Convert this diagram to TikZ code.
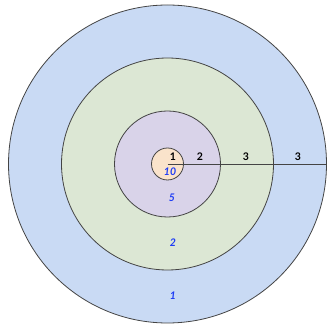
\documentclass[tikz,border=0pt]{standalone}
\usepackage{fontspec}
\setmainfont{Lato}
\usetikzlibrary{positioning}
\definecolor{ringblue}{HTML}{C9DAF4}
\definecolor{ringgreen}{HTML}{DCE7D4}
\definecolor{ringpurple}{HTML}{D9D3E9}
\definecolor{corepeach}{HTML}{FAE3CB}
\definecolor{rimgrey}{HTML}{444444}
\definecolor{valblue}{HTML}{1E3CF5}
\tikzset{
  ring/.style     = {circle, draw=rimgrey, line width=0.8pt, inner sep=0pt},
  radius/.style   = {draw=rimgrey, line width=0.8pt},
  steplabel/.style= {font=\fontsize{10.5}{12}\selectfont\bfseries, text=black, inner sep=1pt},
  vallabel/.style = {font=\fontsize{10.5}{12}\selectfont\bfseries\itshape, text=valblue, inner sep=1pt},
}
\begin{document}
\begin{tikzpicture}[x=1pt, y=1pt]
  \useasboundingbox (0,0) rectangle (330,324);
  \coordinate (c) at (167.5,160);

  \node[ring, fill=ringblue,   minimum size=318pt] (outer)  at (c) {};
  \node[ring, fill=ringgreen,  minimum size=212pt] (middle) at (c) {};
  \node[ring, fill=ringpurple, minimum size=106pt] (inner)  at (c) {};
  \node[ring, fill=corepeach,  minimum size=32pt]  (core)   at (c) {};

  \draw[radius] (c) -- (outer.east);

  \node[steplabel] (l1) at (173,167) {1};
  \node[steplabel] (l2) at (200,167) {2};
  \node[steplabel] (l3) at (246,167) {3};
  \node[steplabel] (l4) at (298,167) {3};

  \node[vallabel] (v10) at (170,152) {10};
  \node[vallabel] (v5)  at (172,126) {5};
  \node[vallabel] (v2)  at (173,81)  {2};
  \node[vallabel] (v1)  at (173,28)  {1};
\end{tikzpicture}
\end{document}
